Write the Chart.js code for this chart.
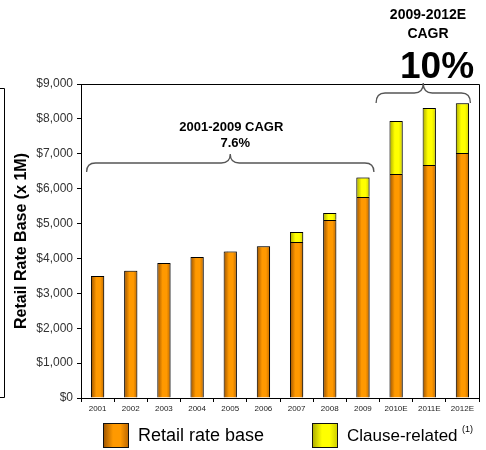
<!DOCTYPE html>
<html>
<head>
<meta charset="utf-8">
<script src="https://cdn.jsdelivr.net/npm/chart.js@4"></script>
<style>
  html, body { margin: 0; padding: 0; background: #fff; }
  #wrap { width: 486px; height: 450px; }
</style>
</head>
<body>
<div id="wrap"><canvas id="rateBaseChart" width="486" height="450"></canvas></div>
<script>
const years = ["2001", "2002", "2003", "2004", "2005", "2006", "2007", "2008", "2009", "2010E", "2011E", "2012E"];
const retailRateBase = [3500, 3650, 3870, 4040, 4200, 4350, 4470, 5100, 5760, 6420, 6680, 7020];
const clauseRelated = [null, null, null, null, null, null, 290, 200, 560, 1520, 1630, 1430];
const yTicks = [0, 1000, 2000, 3000, 4000, 5000, 6000, 7000, 8000, 9000];

const FONT = "Arial, 'Liberation Sans', sans-serif";
const BAR_PCT = 0.4;

// horizontal shading across each bar, dark edges and a bright middle
function shade(ctx, left, right, dark, bright, darkRight) {
  const g = ctx.createLinearGradient(left, 0, right, 0);
  g.addColorStop(0, dark);
  g.addColorStop(0.4, bright);
  g.addColorStop(0.7, bright);
  g.addColorStop(1, darkRight);
  return g;
}

function barFill(dark, bright, darkRight) {
  return (c) => {
    const chart = c.chart;
    const x = chart.scales.x;
    if (!chart.chartArea || c.type !== "data") return bright;
    const cx = x.getPixelForValue(c.dataIndex);
    const half = (x.width / years.length) * BAR_PCT / 2;
    return shade(chart.ctx, cx - half, cx + half, dark, bright, darkRight);
  };
}

function drawBrace(ctx, x1, x2, xPeak, yEnd, yLine, yPeak) {
  const r = 9;
  ctx.beginPath();
  ctx.moveTo(x1, yEnd);
  ctx.quadraticCurveTo(x1, yLine, x1 + r, yLine);
  ctx.lineTo(xPeak - r, yLine);
  ctx.quadraticCurveTo(xPeak, yLine, xPeak, yPeak);
  ctx.quadraticCurveTo(xPeak, yLine, xPeak + r, yLine);
  ctx.lineTo(x2 - r, yLine);
  ctx.quadraticCurveTo(x2, yLine, x2, yEnd);
  ctx.stroke();
}

const extras = {
  id: "extras",
  beforeDatasetsDraw(chart) {
    const ctx = chart.ctx;
    ctx.save();
    ctx.shadowColor = "rgba(0,0,0,0.3)";
    ctx.shadowOffsetX = 1;
    ctx.shadowOffsetY = -1;
    ctx.shadowBlur = 1;
  },
  afterDatasetsDraw(chart) {
    chart.ctx.restore();
  },
  afterDraw(chart) {
    const ctx = chart.ctx;
    const { top, right, left, bottom } = chart.chartArea;
    const x = chart.scales.x;
    ctx.save();

    // frame on top and right of the plot
    ctx.strokeStyle = "#000";
    ctx.lineWidth = 1;
    ctx.beginPath();
    ctx.moveTo(left, top + 0.5);
    ctx.lineTo(right + 0.5, top + 0.5);
    ctx.lineTo(right + 0.5, bottom);
    ctx.stroke();

    // edge of the neighbouring box on the far left
    ctx.beginPath();
    ctx.moveTo(0, 88.5);
    ctx.lineTo(4.5, 88.5);
    ctx.lineTo(4.5, 397.5);
    ctx.lineTo(0, 397.5);
    ctx.stroke();

    // growth braces
    ctx.strokeStyle = "#555";
    ctx.lineWidth = 1.3;
    const a1 = x.getPixelForValue(0) - 11;
    const a2 = x.getPixelForValue(8) + 11;
    drawBrace(ctx, a1, a2, (a1 + a2) / 2, 172, 163, 154);
    const b1 = x.getPixelForValue(9) - 20;
    const b2 = x.getPixelForValue(11) + 8;
    drawBrace(ctx, b1, b2, (b1 + b2) / 2, 103, 93, 83);

    ctx.fillStyle = "#000";
    ctx.textAlign = "center";
    ctx.textBaseline = "middle";
    ctx.font = "bold 13px " + FONT;
    ctx.fillText("2001-2009 CAGR", (a1 + a2) / 2 + 1, 127);
    ctx.fillText("7.6%", (a1 + a2) / 2 + 5, 143);
    ctx.font = "bold 14px " + FONT;
    ctx.fillText("2009-2012E", 428, 15);
    ctx.fillText("CAGR", 428, 34);
    ctx.font = "bold 37px " + FONT;
    ctx.fillText("10%", 437, 68);

    // legend
    const items = [
      { x: 103, size: 18, label: chart.data.datasets[0].label, dark: "#9a5200", bright: "#ff9900", darkR: "#c06a00" },
      { x: 312, size: 17, label: chart.data.datasets[1].label, dark: "#a8a800", bright: "#ffff00", darkR: "#d0d000" }
    ];
    ctx.textAlign = "left";
    items.forEach((it) => {
      ctx.fillStyle = shade(ctx, it.x, it.x + 25, it.dark, it.bright, it.darkR);
      ctx.fillRect(it.x, 423, 25, 24);
      ctx.strokeStyle = "#111";
      ctx.lineWidth = 1;
      ctx.strokeRect(it.x + 0.5, 423.5, 25, 24);
      ctx.fillStyle = "#000";
      ctx.font = it.size + "px " + FONT;
      ctx.fillText(it.label, it.x + 35, 436);
    });
    ctx.font = "9px " + FONT;
    ctx.fillText("(1)", 462, 430);

    ctx.restore();
  }
};

new Chart(document.getElementById("rateBaseChart"), {
  type: "bar",
  data: {
    labels: years,
    datasets: [
      {
        label: "Retail rate base",
        data: retailRateBase,
        backgroundColor: barFill("#9a5200", "#ff9900", "#c06a00"),
        borderColor: "#000",
        borderWidth: 1,
        barPercentage: BAR_PCT,
        categoryPercentage: 1
      },
      {
        label: "Clause-related",
        data: clauseRelated,
        backgroundColor: barFill("#a8a800", "#ffff00", "#d0d000"),
        borderColor: "#000",
        borderWidth: 1,
        barPercentage: BAR_PCT,
        categoryPercentage: 1
      }
    ]
  },
  options: {
    responsive: false,
    animation: false,
    devicePixelRatio: 1,
    layout: { padding: { top: 84, right: 7, left: 0, bottom: 0 } },
    plugins: {
      legend: { display: false },
      tooltip: { enabled: false }
    },
    scales: {
      x: {
        stacked: true,
        afterFit: (s) => { s.height = 52; },
        grid: { offset: true, drawOnChartArea: false, color: "#000", tickLength: 4 },
        border: { color: "#000", width: 1 },
        ticks: { color: "#222", font: { family: FONT, size: 8 }, padding: 2, maxRotation: 0, autoSkip: false }
      },
      y: {
        stacked: true,
        min: 0,
        max: 9000,
        afterFit: (s) => { s.width = 81; },
        afterBuildTicks: (s) => { s.ticks = yTicks.map((v) => ({ value: v })); },
        grid: { drawOnChartArea: false, color: "#000", tickLength: 4 },
        border: { color: "#000", width: 1 },
        ticks: {
          color: "#333",
          font: { family: FONT, size: 12 },
          padding: 4,
          callback: (v) => "$" + v.toLocaleString("en-US")
        },
        title: {
          display: true,
          text: "Retail Rate Base (x 1M)",
          color: "#000",
          font: { family: FONT, size: 16, weight: "bold" },
          padding: { top: 12, bottom: 0 }
        }
      }
    }
  },
  plugins: [extras]
});
</script>
</body>
</html>
